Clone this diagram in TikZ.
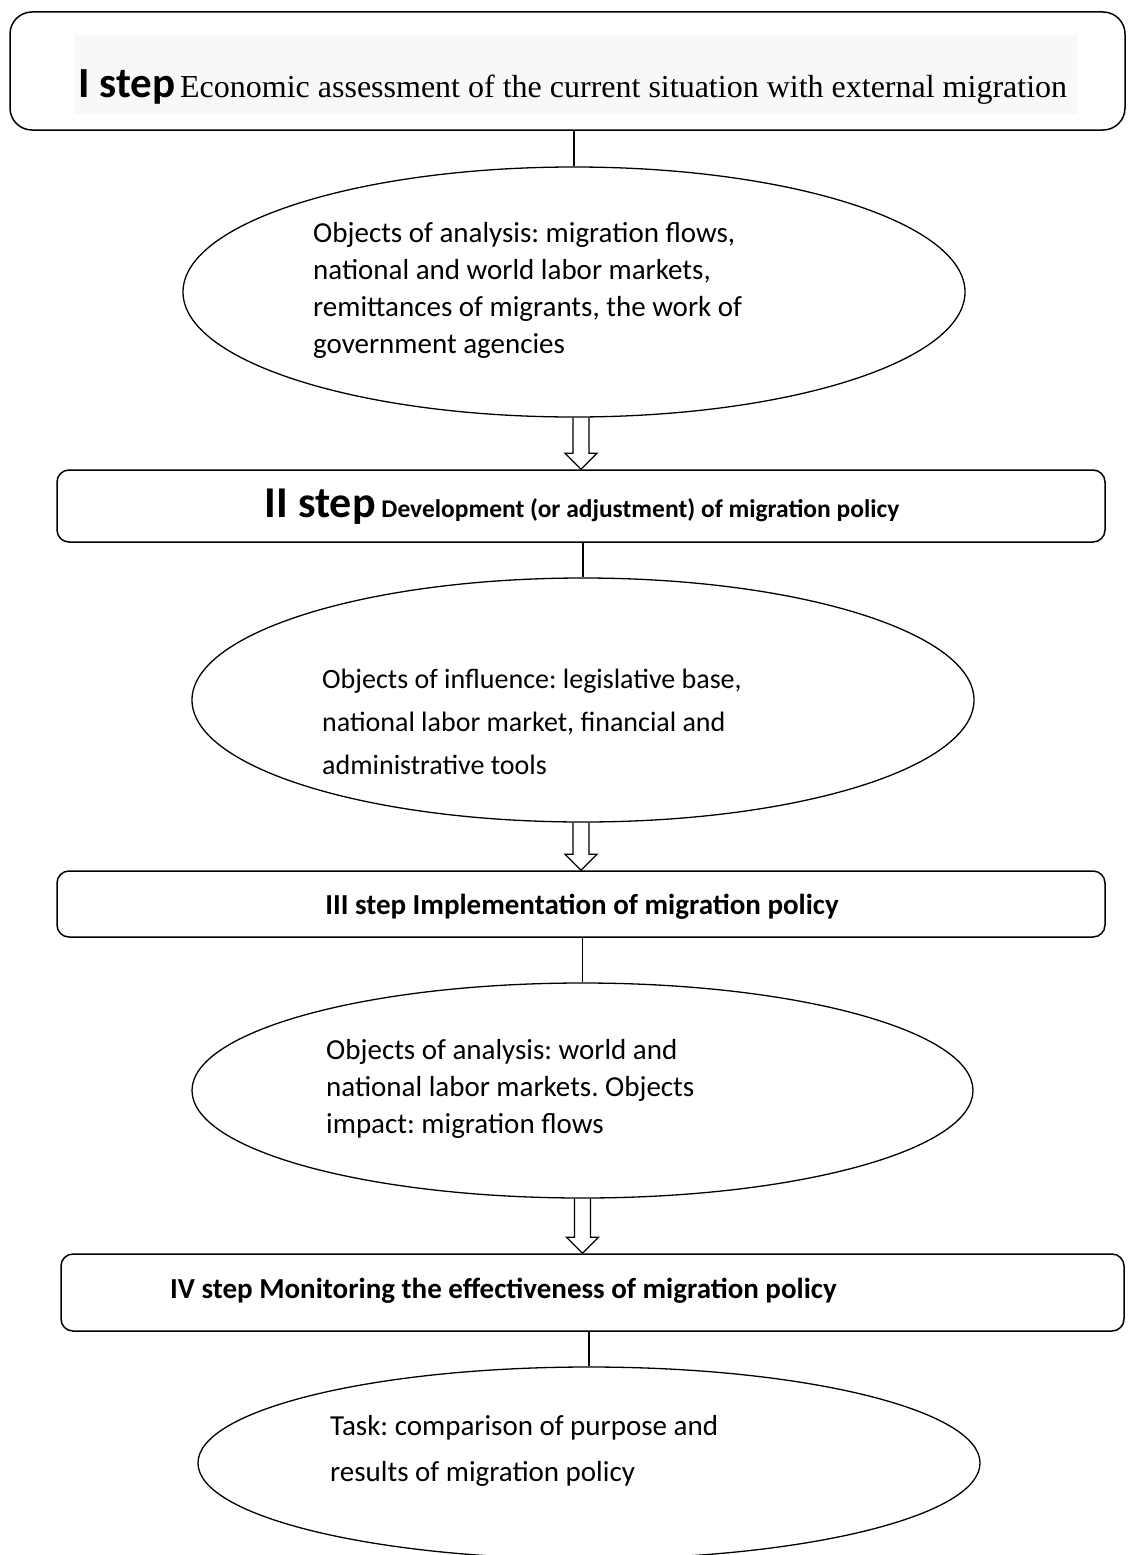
\documentclass[tikz,border=0pt]{standalone}
\usepackage{fontspec}
\setmainfont{Liberation Serif}
\newfontfamily\carl{Carlito}
\usetikzlibrary{shapes.geometric,calc}
\definecolor{boxgray}{HTML}{F7F8FA}
\frenchspacing
\newcommand\hollowarrow[2]{%
  \draw[conn,line join=miter] let \p1=(#1), \p2=(#2) in
    (\x2-8pt,\y1) -- (\x2-8pt,\y2+16pt) -- (\x2-16pt,\y2+16pt) -- (\x2,\y2)
    -- (\x2+16pt,\y2+16pt) -- (\x2+8pt,\y2+16pt) -- (\x2+8pt,\y1);}
\begin{document}
\begin{tikzpicture}[x=1pt,y=-1pt,
  stepbox/.style={draw,line width=1.5pt,rounded corners=12pt,inner sep=0pt},
  oval/.style={draw,ellipse,line width=1.3pt,inner sep=0pt},
  conn/.style={line width=1.3pt},
  otext/.style={font=\carl\fontsize{29}{37}\selectfont,align=left,inner sep=0pt,anchor=west},
  stext/.style={font=\carl\bfseries\fontsize{29}{32}\selectfont,inner sep=0pt},
  ]
\useasboundingbox (0,0) rectangle (1127,1555);
\clip (0,0) rectangle (1127,1555);

% step boxes
\node[stepbox,rounded corners=22pt,minimum width=1115pt,minimum height=118pt] (b1) at (567.5,71) {};
\node[fill=boxgray,inner sep=0pt,minimum width=1002pt,minimum height=79pt] (g1) at (576,74.5) {};
\node[anchor=base west,inner sep=0pt] (t1) at (78,97)
  {{\carl\bfseries\fontsize{43}{45}\selectfont I step}\hspace{5pt}{\fontsize{32}{34}\selectfont Economic assessment of the current situation with external migration}};

\node[stepbox,minimum width=1048pt,minimum height=72pt] (b2) at (581,506) {};
\node[stext,anchor=base,font=\carl\bfseries\fontsize{25.5}{28}\selectfont] (t2) at (582,517)
  {{\fontsize{44}{46}\selectfont II step} Development (or adjustment) of migration policy};

\node[stepbox,minimum width=1048pt,minimum height=66pt] (b3) at (581,904) {};
\node[stext,anchor=base] (t3) at (582,914) {III step Implementation of migration policy};

\node[stepbox,minimum width=1063pt,minimum height=77pt] (b4) at (592.5,1292.5) {};
\node[stext,anchor=base west] (t4) at (170,1298) {IV step Monitoring the effectiveness of migration policy};

% ellipses
\node[oval,minimum width=782pt,minimum height=250pt] (e1) at (574,292) {};
\node[otext] (o1) at (313,290) {Objects of analysis: migration flows,\\national and world labor markets,\\remittances of migrants, the work of\\government agencies};

\node[oval,minimum width=782pt,minimum height=244pt] (e2) at (583,700) {};
\node[otext,font=\carl\fontsize{28}{43}\selectfont] (o2) at (322,722) {Objects of influence: legislative base,\\national labor market, financial and\\administrative tools};

\node[oval,minimum width=781pt,minimum height=215pt] (e3) at (582.5,1090.5) {};
\node[otext] (o3) at (326,1089) {Objects of analysis: world and\\national labor markets. Objects\\impact: migration flows};

\node[oval,minimum width=782pt,minimum height=192pt] (e4) at (589,1463) {};
\node[otext,font=\carl\fontsize{29}{46}\selectfont] (o4) at (330,1451) {Task: comparison of purpose and\\results of migration policy};

% connectors
\draw[conn] (e1.north |- b1.south) -- (e1.north);
\draw[conn] (e2.north |- b2.south) -- (e2.north);
\draw[conn] (e3.north |- b3.south) -- (e3.north);
\draw[conn] (e4.north |- b4.south) -- (e4.north);

\hollowarrow{e1.south}{b2.north}
\hollowarrow{e2.south}{b3.north}
\hollowarrow{e3.south}{b4.north -| e3.south}
\end{tikzpicture}
\end{document}
